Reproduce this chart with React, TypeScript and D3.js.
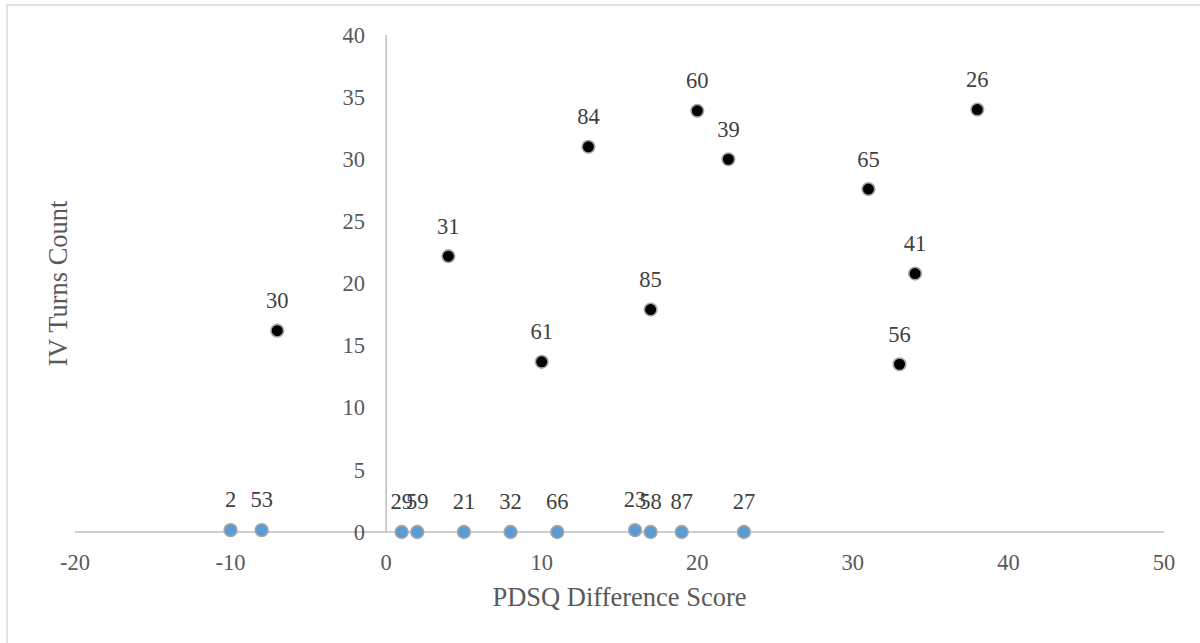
import React from "react";
import * as d3 from "d3";

// Participants with recorded IV turns
const turnsIds = ["30", "31", "61", "84", "85", "60", "39", "65", "41", "56", "26"];
const turnsX = [-7, 4, 10, 13, 17, 20, 22, 31, 34, 33, 38];
const turnsY = [16.2, 22.2, 13.7, 31, 17.9, 33.9, 30, 27.6, 20.8, 13.5, 34];

// Participants with no IV turns
const zeroIds = ["2", "53", "29", "59", "21", "32", "66", "23", "58", "87", "27"];
const zeroX = [-10, -8, 1, 2, 5, 8, 11, 16, 17, 19, 23];
const zeroY = [0.15, 0.15, 0, 0, 0, 0, 0, 0.15, 0, 0, 0];

const xTicks = [-20, -10, 0, 10, 20, 30, 40, 50];
const yTicks = [0, 5, 10, 15, 20, 25, 30, 35, 40];

const W = 1200;
const H = 643;
const FONT = "Liberation Serif, Times New Roman, DejaVu Serif, serif";
const textStyle = { fontFamily: FONT };

export default function App() {
  const x = d3.scaleLinear().domain([-20, 50]).range([75, 1164]);
  const y = d3.scaleLinear().domain([0, 40]).range([532, 35]);

  const turns = turnsIds.map((id, i) => ({ id, x: turnsX[i], y: turnsY[i] }));
  const zeros = zeroIds.map((id, i) => ({ id, x: zeroX[i], y: zeroY[i] }));

  return (
    <svg
      width={W}
      height={H}
      style={{ position: "absolute", left: 0, top: 0, background: "#fff", fontFamily: FONT }}
    >
      <rect x={7} y={5} width={W} height={H} fill="#fff" stroke="#d9d9d9" strokeWidth={1.5} />

      {/* axes crossing at the origin */}
      <line x1={x(-20)} x2={x(50)} y1={y(0)} y2={y(0)} stroke="#bfbfbf" strokeWidth={1.5} />
      <line x1={x(0)} x2={x(0)} y1={y(0)} y2={y(40)} stroke="#bfbfbf" strokeWidth={1.5} />

      {yTicks.map((t) => (
        <text key={"y" + t} x={365} y={y(t) + 7.7} textAnchor="end" fontSize={22.5} fill="#595959" style={textStyle}>
          {t}
        </text>
      ))}
      {xTicks.map((t) => (
        <text key={"x" + t} x={x(t)} y={570} textAnchor="middle" fontSize={22.5} fill="#595959" style={textStyle}>
          {t}
        </text>
      ))}

      <text x={(x(-20) + x(50)) / 2} y={606} textAnchor="middle" fontSize={26.5} fill="#595959" style={textStyle}>
        PDSQ Difference Score
      </text>
      <text
        transform={`translate(67, ${(y(0) + y(40)) / 2}) rotate(-90)`}
        textAnchor="middle"
        fontSize={26.5}
        fill="#595959"
        style={textStyle}
      >
        IV Turns Count
      </text>

      {turns.map((d) => (
        <g key={"t" + d.id}>
          <circle cx={x(d.x)} cy={y(d.y)} r={6.3} fill="#000" stroke="#a5a5a5" strokeWidth={1.6} />
          <text x={x(d.x)} y={y(d.y) - 22.5} textAnchor="middle" fontSize={22.5} fill="#404040" style={textStyle}>
            {d.id}
          </text>
        </g>
      ))}

      {zeros.map((d) => (
        <g key={"z" + d.id}>
          <circle cx={x(d.x)} cy={y(d.y)} r={6.4} fill="#5b9bd5" stroke="#a5a5a5" strokeWidth={1.6} />
          <text x={x(d.x)} y={y(d.y) - 23} textAnchor="middle" fontSize={22.5} fill="#404040" style={textStyle}>
            {d.id}
          </text>
        </g>
      ))}
    </svg>
  );
}
